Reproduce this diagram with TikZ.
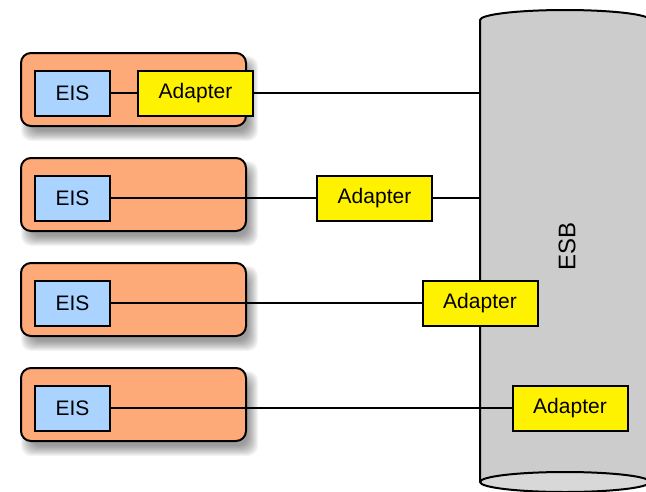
\documentclass[tikz,border=0pt]{standalone}
\usepackage{fontspec}
\setmainfont{Liberation Sans}
\definecolor{sysorange}{RGB}{253,170,120}
\definecolor{eisblue}{RGB}{170,212,255}
\definecolor{cylgray}{RGB}{204,204,204}
\definecolor{cylbottom}{RGB}{216,216,216}
\tikzset{
  sysbox/.style={draw=black, line width=2pt, fill=sysorange, rounded corners=10pt,
    minimum width=225pt, minimum height=73pt, inner sep=0pt},
  eisbox/.style={draw=black, line width=2pt, fill=eisblue, minimum width=75pt,
    minimum height=45pt, inner sep=0pt, font=\fontsize{21}{25}\selectfont},
  adapterbox/.style={draw=black, line width=2pt, fill=yellow, minimum width=115pt,
    minimum height=45pt, inner sep=0pt, font=\fontsize{21}{25}\selectfont},
  link/.style={line width=1.5pt},
  cylline/.style={line width=2pt, line join=round}
}
\begin{document}
\begin{tikzpicture}[x=1pt,y=-1pt]
\useasboundingbox (0,0) rectangle (646,491);
\clip (0,0) rectangle (646,491);
% ESB cylinder
\fill[cylgray] (480,20) arc (180:360:85 and 10) -- (650,482) arc (0:180:85 and 10) -- cycle;
\filldraw[cylline, fill=cylbottom] (565,482) ellipse (85 and 10);
\draw[cylline] (480,482) -- (480,20) arc (180:360:85 and 10) -- (650,482);
\node[rotate=90, font=\fontsize{24}{28}\selectfont] (esb) at (567,246) {ESB};
\coordinate (bus1) at (480,93);
\coordinate (bus2) at (480,198);
% systems
\foreach \i/\c/\ax in {1/93/195.5, 2/198/374.5, 3/303/480, 4/408/570}{
  \foreach \d in {-5,...,5}{
    \fill[black, opacity=0.045, rounded corners=10pt]
      ({26-\d},{\c-41+9-\d}) rectangle ({253+\d},{\c+34+9+\d});
  }
  \node[sysbox] (sys\i) at (133.5,{\c-3.5}) {};
  \node[eisbox] (eis\i) at (72.5,\c) {EIS};
  \node[adapterbox] (ad\i) at (\ax,\c) {Adapter};
}
\draw[link] (eis1) -- (ad1);
\draw[link] (ad1) -- (bus1);
\draw[link] (eis2) -- (ad2);
\draw[link] (ad2) -- (bus2);
\draw[link] (eis3) -- (ad3);
\draw[link] (eis4) -- (ad4);
\end{tikzpicture}
\end{document}
